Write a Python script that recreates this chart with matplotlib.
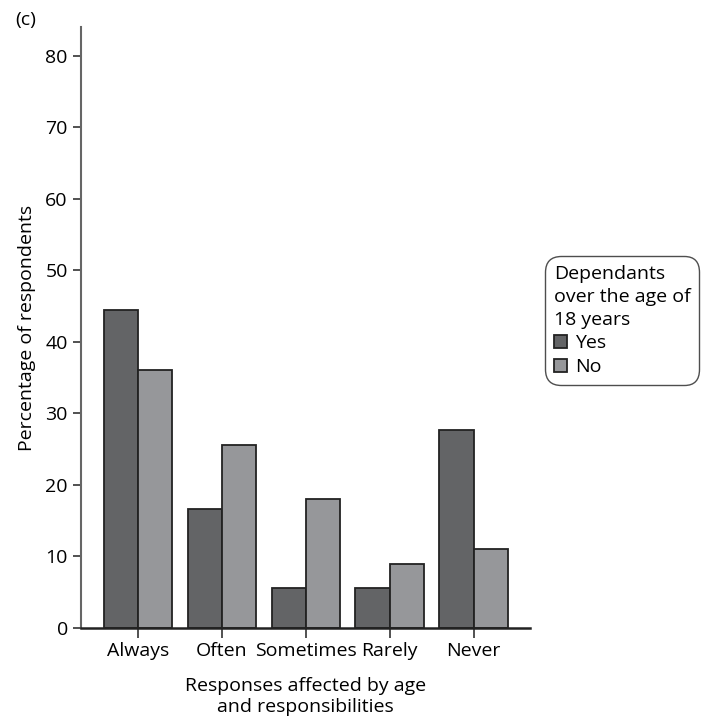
import matplotlib
matplotlib.use("Agg")
import matplotlib.pyplot as plt
import numpy as np

categories = ["Always", "Often", "Sometimes", "Rarely", "Never"]
yes_vals = [44.4, 16.6, 5.6, 5.6, 27.7]
no_vals = [36.0, 25.6, 18.0, 9.0, 11.1]
series_names = ["Yes", "No"]
yticks = [0, 10, 20, 30, 40, 50, 60, 70, 80]

plt.rcParams['font.family'] = ['Open Sans', 'DejaVu Sans']
FS = 14

fig = plt.figure(figsize=(7.04, 7.25), dpi=100)
ax = fig.add_axes([81/704, 1-628/725, (530-81)/704, (628-27)/725])

x = np.arange(len(categories))
w = 0.41
dark = '#636466'
light = '#96979a'
ax.bar(x - w/2, yes_vals, width=w, color=dark, edgecolor='#222222', linewidth=1.3, label=series_names[0])
ax.bar(x + w/2, no_vals, width=w, color=light, edgecolor='#222222', linewidth=1.3, label=series_names[1])

ax.set_xlim(-0.68, 4.67)
ax.set_ylim(0, 84)
ax.set_yticks(yticks)
ax.set_xticks(x)
ax.set_xticklabels(categories)
ax.tick_params(axis='both', labelsize=FS, length=6, width=1.2, color='#333333', pad=3.5)
ax.tick_params(axis='x', direction='out', length=7.5, pad=2.5)
for s in ['top', 'right']:
    ax.spines[s].set_visible(False)
ax.spines['left'].set_color('#666666')
ax.spines['left'].set_linewidth(1.5)
ax.spines['bottom'].set_color('#222222')
ax.spines['bottom'].set_linewidth(1.8)

ax.set_ylabel("Percentage of respondents", fontsize=FS, labelpad=7)
ax.set_xlabel("Responses affected by age\nand responsibilities", fontsize=FS, labelpad=12.5)

leg = ax.legend(title="Dependants\nover the age of\n18 years", loc='upper left',
                bbox_to_anchor=(545/704, 1-256/725), bbox_transform=fig.transFigure,
                fontsize=FS, title_fontsize=FS, alignment='left', frameon=True,
                fancybox=True, edgecolor='#222222', handlelength=0.7, handleheight=0.7,
                handletextpad=0.4, labelspacing=0.3, borderpad=0.45, borderaxespad=0)
leg.get_title().set_linespacing(1.35)
leg.get_frame().set_linewidth(1.0)
leg.get_frame().set_boxstyle('round', pad=0, rounding_size=0.8)

fig.text(15/704, 1-20/725, "(c)", fontsize=FS, va='center', ha='left')

fig.savefig("out.png", dpi=100)
